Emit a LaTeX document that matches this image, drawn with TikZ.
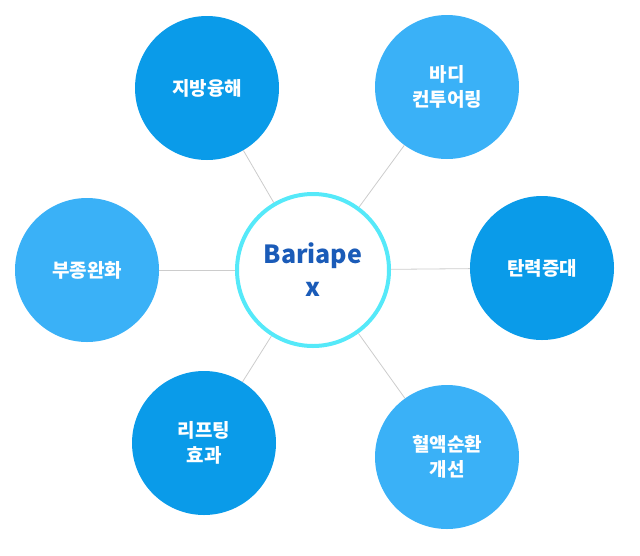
\documentclass[tikz,border=0pt]{standalone}
\usepackage{fontspec}
\setmainfont{Noto Sans CJK KR}
\definecolor{dk}{HTML}{0A9BE9}
\definecolor{lt}{HTML}{3AB1F7}
\definecolor{cy}{HTML}{55E9F9}
\definecolor{tx}{HTML}{1A5BB8}
\begin{document}
\begin{tikzpicture}[x=1pt,y=-1pt,
  outer/.style={circle,minimum size=144pt,inner sep=0pt,text=white,font=\fontsize{19}{25}\selectfont\bfseries,align=center},
  link/.style={draw=black!20,line width=0.8pt}]
\useasboundingbox (0,0) rectangle (640,555);
\node[circle,minimum size=152pt,draw=cy,line width=4pt,fill=white,text=tx,font=\fontsize{25}{33}\selectfont\bfseries,align=center] (c) at (313,270) {Bariape\\x};
\node[outer,fill=dk] (a) at (207,88) {지방융해};
\node[outer,fill=lt] (b) at (447,87) {바디\\컨투어링};
\node[outer,fill=dk] (d) at (542,268) {탄력증대};
\node[outer,fill=lt] (e) at (87,270) {부종완화};
\node[outer,fill=dk] (f) at (204,443) {리프팅\\효과};
\node[outer,fill=lt] (g) at (447,457) {혈액순환\\개선};
\foreach \n in {a,b,d,e,f,g} \draw[link] (c) -- (\n);
\end{tikzpicture}
\end{document}
